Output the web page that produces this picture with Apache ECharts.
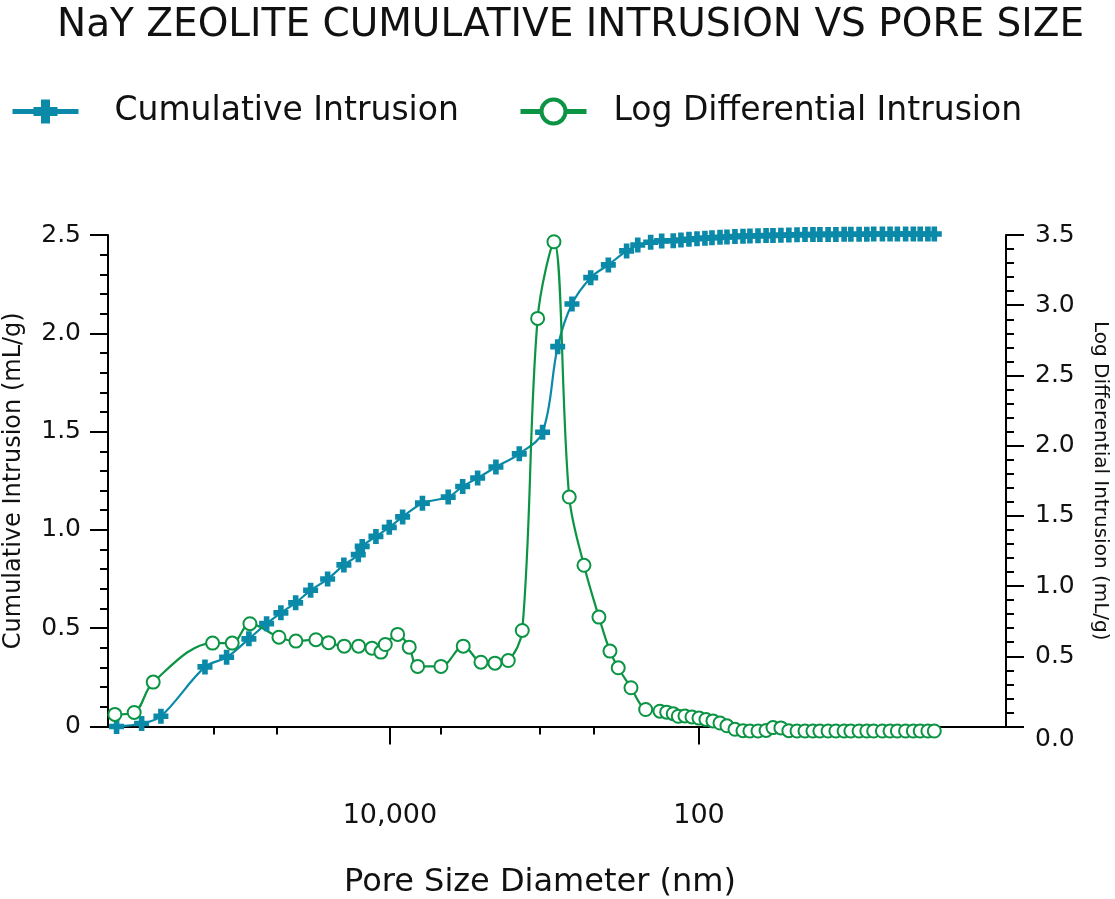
<!DOCTYPE html>
<html><head><meta charset="utf-8">
<script src="https://cdn.jsdelivr.net/npm/echarts@6/dist/echarts.min.js"></script>
<style>html,body{margin:0;padding:0;background:#fff}#c{width:1115px;height:899px}</style>
</head><body><div id="c"></div>
<script>
// ---- data (pore size in nm, values in mL/g) ----
const cumPore = [587500, 404600, 303400, 157400, 114000, 81800, 62800, 50770, 40740, 32600,
  25300, 19860, 16030, 15110, 12320, 10100, 8276, 6160, 4196, 3383,
  2706, 2061, 1455, 1028, 821, 663.7, 502, 386, 294, 249,
  205.4, 174.3, 146.7,
  130.8, 116.1, 103.0, 91.5, 82.4, 73.1, 65.9, 58.5, 51.9, 46.8,
  41.5, 36.8, 33.2, 29.5, 26.2, 23.2, 20.6, 18.3, 16.5, 14.6,
  13.0, 11.5, 10.4, 9.2, 8.2, 7.4, 6.5, 5.8, 5.2, 4.6,
  4.1, 3.7, 3.3, 3.0];
const cumValues = [0, 0.015, 0.052, 0.303, 0.352, 0.446, 0.523, 0.578, 0.629, 0.693,
  0.750, 0.822, 0.874, 0.916, 0.967, 1.013, 1.066, 1.136, 1.167, 1.221,
  1.264, 1.320, 1.387, 1.497, 1.932, 2.149, 2.283, 2.348, 2.419, 2.449,
  2.463, 2.470, 2.471,
  2.474, 2.478, 2.481, 2.484, 2.486, 2.488, 2.490, 2.492, 2.494, 2.495,
  2.496, 2.497, 2.498, 2.499, 2.500, 2.501, 2.502, 2.502, 2.503, 2.503,
  2.503, 2.504, 2.504, 2.504, 2.504, 2.505, 2.505, 2.505, 2.505, 2.505,
  2.505, 2.505, 2.505, 2.505];
const ldiPore = [602600, 451900, 340400, 140500, 104900, 80550, 52280, 40600, 30130, 24930,
  19760, 15950, 13070, 11440, 10720, 8916, 7500, 6618, 4675, 3354,
  2576, 2091, 1715, 1392, 1107, 868, 691, 555, 444, 376.7,
  333, 275.4, 221.3, 178.9, 161.8, 146.7, 136.1,
  123.2, 111.0, 100.0, 90.1, 81.2, 73.1, 65.9, 58.5, 51.9, 46.8,
  41.5, 36.8, 33.2, 29.5, 26.2, 23.2, 20.6, 18.3, 16.5, 14.6,
  13.0, 11.5, 10.4, 9.2, 8.2, 7.4, 6.5, 5.8, 5.2, 4.6,
  4.1, 3.7, 3.3, 3.0];
const ldiValues = [0.086, 0.100, 0.316, 0.594, 0.594, 0.732, 0.636, 0.608, 0.618, 0.597,
  0.572, 0.572, 0.558, 0.530, 0.584, 0.656, 0.565, 0.428, 0.428, 0.572,
  0.458, 0.451, 0.470, 0.684, 2.906, 3.452, 1.634, 1.148, 0.779, 0.537,
  0.418, 0.276, 0.121, 0.109, 0.102, 0.091, 0.073,
  0.075, 0.068, 0.060, 0.050, 0.040, 0.025, 0.005, -0.020, -0.030, -0.032,
  -0.032, -0.028, -0.008, -0.010, -0.030, -0.032, -0.032, -0.032, -0.032, -0.032,
  -0.032, -0.032, -0.032, -0.032, -0.032, -0.032, -0.032, -0.032, -0.032, -0.032,
  -0.032, -0.032, -0.032, -0.032];
const xLabelValues = [10000, 100];
const xMajorTicks = [10000, 100];
const xMinorTicks = [137700, 53800, 4680, 1069, 478];
const seriesNames = ['Cumulative Intrusion', 'Log Differential Intrusion'];
const titleText = 'NaY ZEOLITE CUMULATIVE INTRUSION VS PORE SIZE';
const xName = 'Pore Size Diameter (nm)';
const yLeftName = 'Cumulative Intrusion (mL/g)';
const yRightName = 'Log Differential Intrusion (mL/g)';

// ---- styling ----
const FONT = '"DejaVu Sans", sans-serif';
const TEAL = '#0a8aa8', GREEN = '#0b9444', INK = '#111';
const crossPath = 'path://M5,0H11V5H16V11H11V16H5V11H0V5H5Z';
const fmtNum = v => String(Math.round(v)).replace(/\B(?=(\d{3})+(?!\d))/g, ',');
const blk = {color: '#000', width: 2};
const xCommon = {type: 'log', logBase: 10, inverse: true, min: 0.8, max: 860000,
  gridIndex: 0, position: 'bottom', splitLine: {show: false}, minorTick: {show: false}};

const chart = echarts.init(document.getElementById('c'));
chart.setOption({
  animation: false,
  backgroundColor: '#fff',
  title: {text: titleText, left: 57, top: 6, padding: 0,
    textStyle: {fontFamily: FONT, fontSize: 39, fontWeight: 'normal', color: INK}},
  legend: [
    {data: [seriesNames[0]], left: 10, top: 95, padding: 0, itemWidth: 66, itemHeight: 30,
      lineStyle: {width: 5}, textStyle: {fontFamily: FONT, fontSize: 33, color: INK, padding: [0, 0, 0, 31]}},
    {data: [seriesNames[1]], left: 518, top: 95, padding: 0, itemWidth: 66, itemHeight: 30,
      lineStyle: {width: 5}, itemStyle: {borderWidth: 4},
      textStyle: {fontFamily: FONT, fontSize: 33, color: INK, padding: [0, 0, 0, 22]}}
  ],
  grid: {left: 91, right: 92, top: 235, bottom: 172.5, containLabel: false, outerBoundsMode: 'none'},
  xAxis: [
    Object.assign({}, xCommon, {
      name: xName, nameLocation: 'middle', nameGap: 140,
      nameTextStyle: {fontFamily: FONT, fontSize: 32, color: INK, padding: [0, 34, 0, 0]},
      axisLine: {show: true, onZero: false, lineStyle: blk},
      axisTick: {show: true, customValues: xMajorTicks, length: 18, lineStyle: blk},
      axisLabel: {customValues: xLabelValues, formatter: fmtNum, margin: 76,
        fontFamily: FONT, fontSize: 27, color: INK}
    }),
    Object.assign({}, xCommon, {
      axisLine: {show: false},
      axisTick: {show: true, customValues: xMinorTicks, length: 8, lineStyle: blk},
      axisLabel: {show: false}
    })
  ],
  yAxis: [
    {type: 'value', position: 'left', min: 0, max: 2.5, interval: 0.5, offset: -17,
      name: yLeftName, nameLocation: 'middle', nameGap: 82,
      nameTextStyle: {fontFamily: FONT, fontSize: 24, color: INK},
      axisLine: {show: true, onZero: false, lineStyle: blk},
      axisTick: {show: true, length: 18, lineStyle: blk},
      minorTick: {show: true, splitNumber: 5, length: 8, lineStyle: blk},
      splitLine: {show: false}, minorSplitLine: {show: false},
      axisLabel: {margin: 27, fontFamily: FONT, fontSize: 25, color: INK,
        formatter: v => v === 0 ? '0' : v.toFixed(1)}},
    {type: 'value', position: 'right', min: 0, max: 3.5, interval: 0.5, offset: -17,
      name: yRightName, nameLocation: 'middle', nameGap: 84, nameRotate: -90,
      nameTextStyle: {fontFamily: FONT, fontSize: 20, color: INK},
      axisLine: {show: true, onZero: false, lineStyle: blk},
      axisTick: {show: true, length: 18, lineStyle: blk},
      minorTick: {show: true, splitNumber: 5, length: 8, lineStyle: blk},
      splitLine: {show: false}, minorSplitLine: {show: false},
      axisLabel: {margin: 29, fontFamily: FONT, fontSize: 25, color: INK,
        verticalAlignMinLabel: 'top', formatter: v => v.toFixed(1)}}
  ],
  series: [
    {name: seriesNames[0], type: 'line', xAxisIndex: 0, yAxisIndex: 0,
      data: cumPore.map((p, i) => [p, cumValues[i]]),
      smooth: 0.35, symbol: crossPath, symbolSize: 15, showAllSymbol: true, clip: false,
      lineStyle: {color: TEAL, width: 2.2}, itemStyle: {color: TEAL}},
    {name: seriesNames[1], type: 'line', xAxisIndex: 0, yAxisIndex: 1,
      data: ldiPore.map((p, i) => [p, ldiValues[i]]),
      smooth: 0.35, symbol: 'circle', symbolSize: 13, showAllSymbol: true, clip: false,
      lineStyle: {color: GREEN, width: 2.2},
      itemStyle: {color: '#fff', borderColor: GREEN, borderWidth: 2}}
  ]
});
</script></body></html>
